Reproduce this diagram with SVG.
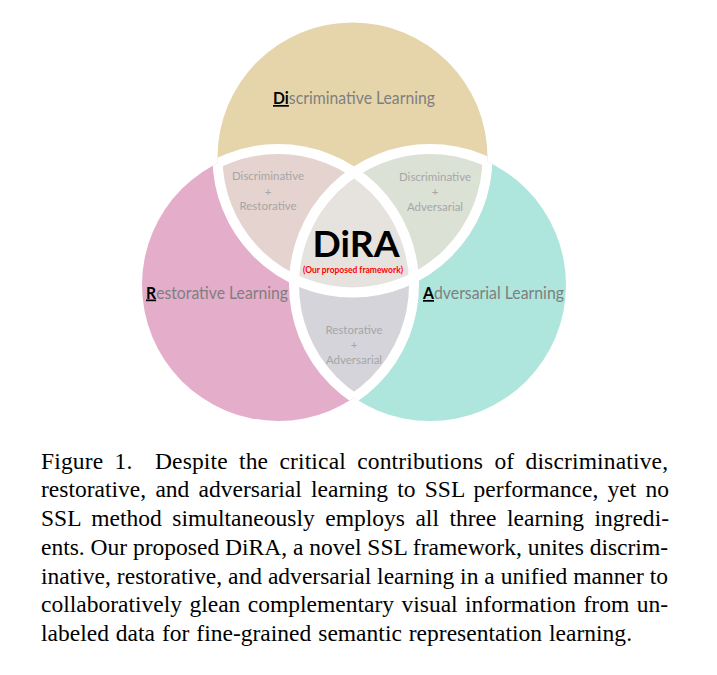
<svg xmlns="http://www.w3.org/2000/svg" width="717" height="675" viewBox="0 0 717 675">
<style>
.lbl{font-family:Lato,"Open Sans","Liberation Sans",sans-serif;font-size:17px;fill:#7f7f7f}
.k{font-weight:bold;fill:#000;text-decoration:underline}
.ov{font-family:Lato,"Open Sans","Liberation Sans",sans-serif;font-size:11.5px;fill:#a6a6a6;text-anchor:middle}
.cap{font-family:"Liberation Serif","Times New Roman",serif;font-size:23.5px;fill:#000}
.ol{fill:none;stroke:#fff;stroke-width:10}
</style>
<defs>
<clipPath id="cT"><circle cx="352.5" cy="157.5" r="135"/></clipPath>
<clipPath id="cL"><circle cx="278" cy="285" r="136"/></clipPath>
<clipPath id="cR"><circle cx="430" cy="285" r="136"/></clipPath>
<clipPath id="cLR"><circle cx="278" cy="285" r="136"/><circle cx="430" cy="285" r="136"/></clipPath>
<clipPath id="cTR"><circle cx="352.5" cy="157.5" r="135"/><circle cx="430" cy="285" r="136"/></clipPath>
<clipPath id="cTL"><circle cx="352.5" cy="157.5" r="135"/><circle cx="278" cy="285" r="136"/></clipPath>
</defs>
<rect width="717" height="675" fill="#fff"/>
<g id="discriminative">
<circle cx="352.5" cy="157.5" r="135" fill="#e6d5ab"/>
</g>
<g id="restorative">
<circle cx="278" cy="285" r="136" fill="#e4aecb"/>
</g>
<g id="adversarial">
<circle cx="430" cy="285" r="136" fill="#aee5dc"/>
</g>
<g id="disc-rest">
<circle cx="278" cy="285" r="136" fill="#e5d3cf" clip-path="url(#cT)"/>
</g>
<g id="disc-adv">
<circle cx="430" cy="285" r="136" fill="#dce1d6" clip-path="url(#cT)"/>
</g>
<g id="rest-adv">
<circle cx="430" cy="285" r="136" fill="#d5d4db" clip-path="url(#cL)"/>
</g>
<g id="dira" clip-path="url(#cT)">
<circle cx="430" cy="285" r="136" fill="#e6e2de" clip-path="url(#cL)"/>
</g>
<g id="connectors">
<circle class="ol" cx="352.5" cy="157.5" r="135" clip-path="url(#cLR)"/>
<circle class="ol" cx="278" cy="285" r="136" clip-path="url(#cTR)"/>
<circle class="ol" cx="430" cy="285" r="136" clip-path="url(#cTL)"/>
</g>
<g id="labels">
<text class="lbl" x="273" y="104" textLength="162" lengthAdjust="spacingAndGlyphs"><tspan class="k">Di</tspan>scriminative Learning</text>
<text class="lbl" x="146" y="298.5" textLength="142" lengthAdjust="spacingAndGlyphs"><tspan class="k">R</tspan>estorative Learning</text>
<text class="lbl" x="423" y="299" textLength="141" lengthAdjust="spacingAndGlyphs"><tspan class="k">A</tspan>dversarial Learning</text>
<text class="ov" x="268" y="180">Discriminative</text>
<text class="ov" x="268" y="195.5">+</text>
<text class="ov" x="268" y="210">Restorative</text>
<text class="ov" x="435" y="181">Discriminative</text>
<text class="ov" x="435" y="196">+</text>
<text class="ov" x="435" y="211">Adversarial</text>
<text class="ov" x="354" y="334">Restorative</text>
<text class="ov" x="354" y="348.5">+</text>
<text class="ov" x="354" y="364">Adversarial</text>
<text x="356" y="256.5" text-anchor="middle" font-family="Lato,'Liberation Sans',sans-serif" font-weight="bold" font-size="37" textLength="87" lengthAdjust="spacingAndGlyphs" fill="#000">DiRA</text>
<text x="353" y="273" text-anchor="middle" font-family="Lato,'Liberation Sans',sans-serif" font-weight="bold" font-size="8.5" textLength="100" lengthAdjust="spacingAndGlyphs" fill="#ff0000">(Our proposed framework)</text>
</g>
<g id="caption">
<text class="cap" x="41" y="468.5" word-spacing="5.2" textLength="627" lengthAdjust="spacing" xml:space="preserve">Figure 1.  Despite the critical contributions of discriminative,</text>
<text class="cap" x="41" y="497.3" word-spacing="3.3" textLength="628" lengthAdjust="spacing">restorative, and adversarial learning to SSL performance, yet no</text>
<text class="cap" x="41" y="526" word-spacing="4.6" textLength="628" lengthAdjust="spacing">SSL method simultaneously employs all three learning ingredi-</text>
<text class="cap" x="41" y="554.8" textLength="627" lengthAdjust="spacing">ents. Our proposed DiRA, a novel SSL framework, unites discrim-</text>
<text class="cap" x="41" y="583.6" textLength="627" lengthAdjust="spacing">inative, restorative, and adversarial learning in a unified manner to</text>
<text class="cap" x="41" y="612.4" word-spacing="1.6" textLength="627" lengthAdjust="spacing">collaboratively glean complementary visual information from un-</text>
<text class="cap" x="41" y="641.2" word-spacing="1" textLength="591" lengthAdjust="spacing">labeled data for fine-grained semantic representation learning.</text>
</g>
</svg>
